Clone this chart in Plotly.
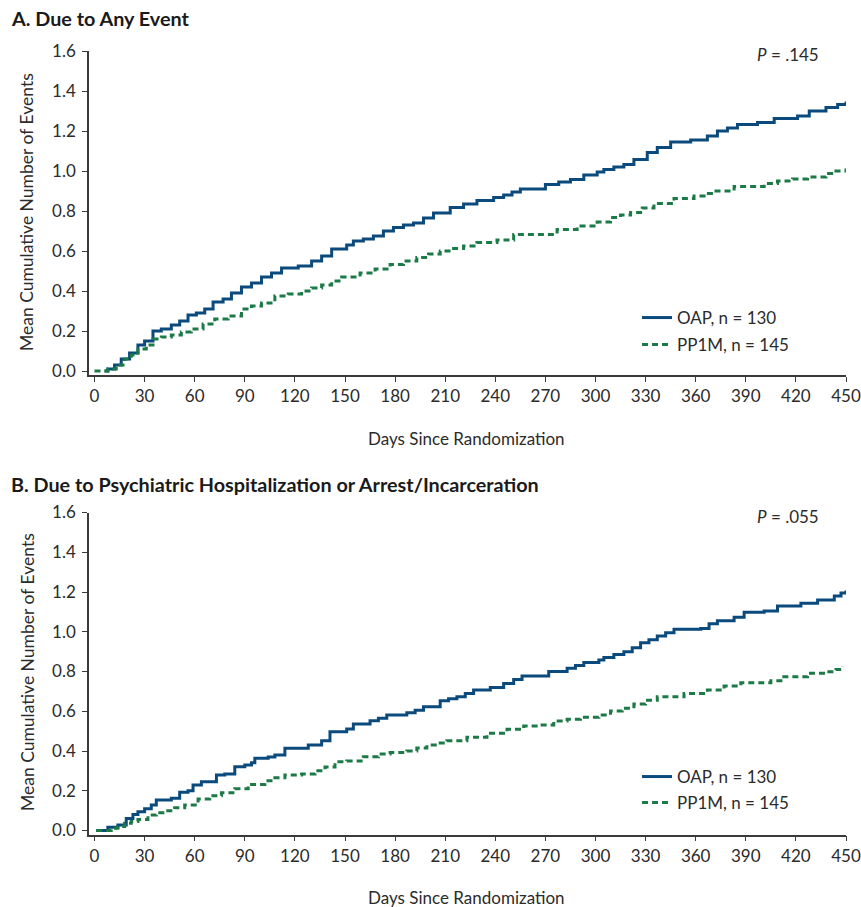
import plotly.graph_objects as go

# ---------------- Data ----------------
xticks = [0, 30, 60, 90, 120, 150, 180, 210, 240, 270, 300, 330, 360, 390, 420, 450]
yticks = [0.0, 0.2, 0.4, 0.6, 0.8, 1.0, 1.2, 1.4, 1.6]

a_oap_days = [6, 8, 12, 16, 21, 26, 30, 35, 40, 46, 51, 56, 61, 66, 71, 77, 82, 88, 94, 100,
              106, 112, 122, 130, 136, 142, 151, 155, 161, 167, 173, 179, 185, 191, 197, 203,
              213, 221, 229, 239, 245, 250, 255, 270, 278, 285, 293, 301, 305, 311, 317, 323,
              331, 337, 345, 357, 367, 373, 379, 385, 397, 407, 421, 428, 438, 445, 450]
a_oap_vals = [0.0, 0.01, 0.03, 0.06, 0.09, 0.13, 0.15, 0.20, 0.21, 0.23, 0.25, 0.28, 0.29, 0.31,
              0.345, 0.36, 0.39, 0.42, 0.44, 0.47, 0.49, 0.515, 0.525, 0.55, 0.575, 0.61, 0.63,
              0.65, 0.66, 0.675, 0.70, 0.717, 0.73, 0.74, 0.765, 0.79, 0.817, 0.835, 0.853, 0.867,
              0.88, 0.895, 0.91, 0.933, 0.945, 0.958, 0.98, 0.995, 1.008, 1.02, 1.033, 1.058,
              1.092, 1.117, 1.145, 1.155, 1.175, 1.20, 1.215, 1.233, 1.242, 1.262, 1.275, 1.30,
              1.317, 1.333, 1.347]

a_pp_days = [0, 8, 13, 18, 22, 26, 31, 35, 40, 46, 52, 58, 65, 72, 80, 88, 94, 100, 108, 116,
             124, 130, 136, 142, 148, 159, 168, 177, 185, 193, 200, 207, 214, 221, 229, 241, 251,
             277, 289, 301, 309, 315, 321, 328, 335, 347, 359, 365, 371, 383, 401, 409, 418, 427,
             438, 444, 450]
a_pp_vals = [0.0, 0.01, 0.03, 0.06, 0.08, 0.11, 0.13, 0.16, 0.17, 0.18, 0.195, 0.21, 0.235, 0.26,
             0.275, 0.31, 0.325, 0.34, 0.375, 0.385, 0.40, 0.415, 0.43, 0.45, 0.47, 0.49, 0.51,
             0.533, 0.55, 0.567, 0.585, 0.60, 0.612, 0.625, 0.642, 0.655, 0.683, 0.708, 0.725,
             0.745, 0.767, 0.78, 0.792, 0.815, 0.838, 0.863, 0.875, 0.888, 0.90, 0.922, 0.938,
             0.95, 0.96, 0.97, 0.987, 1.0, 1.012]

b_oap_days = [1, 8, 14, 19, 23, 26, 30, 34, 37, 46, 51, 56, 59, 64, 73, 78, 84, 90, 94, 96, 104,
              108, 114, 128, 136, 141, 151, 155, 165, 170, 175, 187, 192, 197, 207, 212, 217, 222,
              227, 237, 245, 251, 256, 272, 283, 288, 293, 302, 305, 311, 317, 322, 327, 332, 337,
              342, 347, 363, 368, 373, 383, 389, 401, 409, 423, 433, 443, 447, 450]
b_oap_vals = [0.0, 0.016, 0.028, 0.061, 0.08, 0.095, 0.11, 0.128, 0.153, 0.162, 0.192, 0.20,
              0.229, 0.246, 0.279, 0.285, 0.321, 0.33, 0.341, 0.363, 0.37, 0.38, 0.414, 0.43,
              0.452, 0.497, 0.511, 0.536, 0.552, 0.565, 0.581, 0.593, 0.605, 0.623, 0.653, 0.663,
              0.673, 0.69, 0.707, 0.72, 0.74, 0.76, 0.777, 0.80, 0.816, 0.83, 0.845, 0.858, 0.871,
              0.885, 0.90, 0.92, 0.945, 0.96, 0.979, 0.995, 1.012, 1.017, 1.04, 1.056, 1.073,
              1.098, 1.104, 1.13, 1.143, 1.16, 1.18, 1.195, 1.207]

b_pp_days = [1, 10, 14, 18, 22, 26, 32, 37, 42, 48, 54, 62, 69, 76, 84, 92, 102, 108, 114, 124,
             132, 138, 144, 151, 161, 170, 177, 187, 193, 199, 205, 211, 223, 235, 247, 257, 267,
             275, 283, 291, 302, 309, 316, 323, 330, 337, 353, 367, 377, 387, 405, 411, 427, 438,
             444, 448]
b_pp_vals = [0.0, 0.011, 0.02, 0.036, 0.045, 0.056, 0.078, 0.09, 0.10, 0.115, 0.128, 0.158,
             0.175, 0.19, 0.21, 0.232, 0.25, 0.265, 0.279, 0.284, 0.301, 0.32, 0.346, 0.35,
             0.371, 0.385, 0.392, 0.40, 0.415, 0.43, 0.44, 0.452, 0.469, 0.489, 0.509, 0.526,
             0.531, 0.551, 0.56, 0.57, 0.581, 0.601, 0.615, 0.636, 0.655, 0.673, 0.69, 0.707,
             0.727, 0.744, 0.754, 0.774, 0.791, 0.799, 0.81, 0.824]

series_names = ["OAP, n = 130", "PP1M, n = 145"]
panel_titles = ["A. Due to Any Event",
                "B. Due to Psychiatric Hospitalization or Arrest/Incarceration"]
p_values = ["<i>P</i> = .145", "<i>P</i> = .055"]
x_title = "Days Since Randomization"
y_title = "Mean Cumulative Number of Events"

# ---------------- Styling ----------------
W, H = 861, 907
FONT = "Lato"
FS = 17
TXT = "#2b2b2b"
AX = "#3a3a3a"
BLUE = "#0b4a7c"
GREEN = "#1b7a45"

fig = go.Figure()

def add_pair(xa, ya, oap_d, oap_v, pp_d, pp_v, leg_o, leg_p):
    fig.add_trace(go.Scatter(x=oap_d, y=oap_v, mode="lines", line_shape="hv",
                             line=dict(color=BLUE, width=3), name=series_names[0],
                             xaxis=xa, yaxis=ya, legend=leg_o))
    fig.add_trace(go.Scatter(x=pp_d, y=pp_v, mode="lines", line_shape="hv",
                             line=dict(color=GREEN, width=3, dash="6px,4px"), name=series_names[1],
                             xaxis=xa, yaxis=ya, legend=leg_p))

add_pair("x", "y", a_oap_days, a_oap_vals, a_pp_days, a_pp_vals, "legend", "legend2")
add_pair("x2", "y2", b_oap_days, b_oap_vals, b_pp_days, b_pp_vals, "legend3", "legend4")

def px_y(py):
    return (H - py) / H

def px_x(px):
    return px / W

# plot areas in pixels: x 89..846 ; panel A y 51..375 ; panel B y 512.5..834.5
xdom = [px_x(89), px_x(846)]
domA = [px_y(375), px_y(51)]
domB = [px_y(834.5), px_y(512.5)]

xcommon = dict(range=[-3.3, 450], tickvals=xticks, ticks="outside", ticklen=5, tickwidth=1.3,
               tickcolor=AX, showline=True, linecolor=AX, linewidth=1.5, showgrid=False,
               zeroline=False, automargin=False,
               tickfont=dict(family=FONT, size=FS, color=TXT), domain=xdom)
ycommon = dict(range=[-0.02, 1.6], tickvals=yticks, tickformat=".1f", ticks="outside", ticklen=5,
               tickwidth=1.3, tickcolor=AX, showline=True, linecolor=AX, linewidth=1.5,
               showgrid=False, zeroline=False, automargin=False, ticklabelstandoff=3,
               tickfont=dict(family=FONT, size=FS, color=TXT))

leg_common = dict(bgcolor="rgba(0,0,0,0)", font=dict(family=FONT, size=FS, color=TXT),
                  xanchor="left", yanchor="middle", itemwidth=30, borderwidth=0)

fig.update_layout(
    template="none",
    width=W, height=H,
    margin=dict(l=0, r=0, t=0, b=0, autoexpand=False),
    paper_bgcolor="white", plot_bgcolor="white",
    showlegend=True,
    xaxis=dict(**xcommon, anchor="y"),
    yaxis=dict(**ycommon, domain=domA, anchor="x"),
    xaxis2=dict(**xcommon, anchor="y2"),
    yaxis2=dict(**ycommon, domain=domB, anchor="x2"),
    legend=dict(**leg_common, x=px_x(637), y=px_y(318)),
    legend2=dict(**leg_common, x=px_x(637), y=px_y(345)),
    legend3=dict(**leg_common, x=px_x(637), y=px_y(777)),
    legend4=dict(**leg_common, x=px_x(637), y=px_y(803)),
)

annots = [
    dict(text="<b>" + panel_titles[0] + "</b>", x=px_x(9), y=px_y(18)),
    dict(text="<b>" + panel_titles[1] + "</b>", x=px_x(9), y=px_y(484)),
]
for a in annots:
    fig.add_annotation(**a, xref="paper", yref="paper", xanchor="left", yanchor="middle",
                       showarrow=False, font=dict(family=FONT, size=19.8, color="#1a1a1a"))

for txt, yy in [(p_values[0], 55), (p_values[1], 516)]:
    fig.add_annotation(text=txt, x=px_x(821), y=px_y(yy), xref="paper", yref="paper",
                       xanchor="right", yanchor="middle", showarrow=False,
                       font=dict(family=FONT, size=FS, color=TXT))

for yy in [438, 897]:
    fig.add_annotation(text=x_title, x=px_x(466), y=px_y(yy), xref="paper", yref="paper",
                       xanchor="center", yanchor="middle", showarrow=False,
                       font=dict(family=FONT, size=FS, color=TXT))

for yy in [212, 672]:
    fig.add_annotation(text=y_title, x=px_x(27), y=px_y(yy), xref="paper", yref="paper",
                       xanchor="center", yanchor="middle", showarrow=False, textangle=-90,
                       font=dict(family=FONT, size=17.5, color=TXT))

fig.write_html(
    "out.html",
    config={"displayModeBar": False},
    post_script=(
        "document.documentElement.style.margin='0';document.body.style.margin='0';"
        "document.body.style.padding='0';document.documentElement.style.overflow='hidden';"
        "document.body.style.overflow='hidden';"
        "var d=document.getElementById('{plot_id}');d.style.position='fixed';"
        "d.style.left='0px';d.style.top='0px';"
    ),
)
